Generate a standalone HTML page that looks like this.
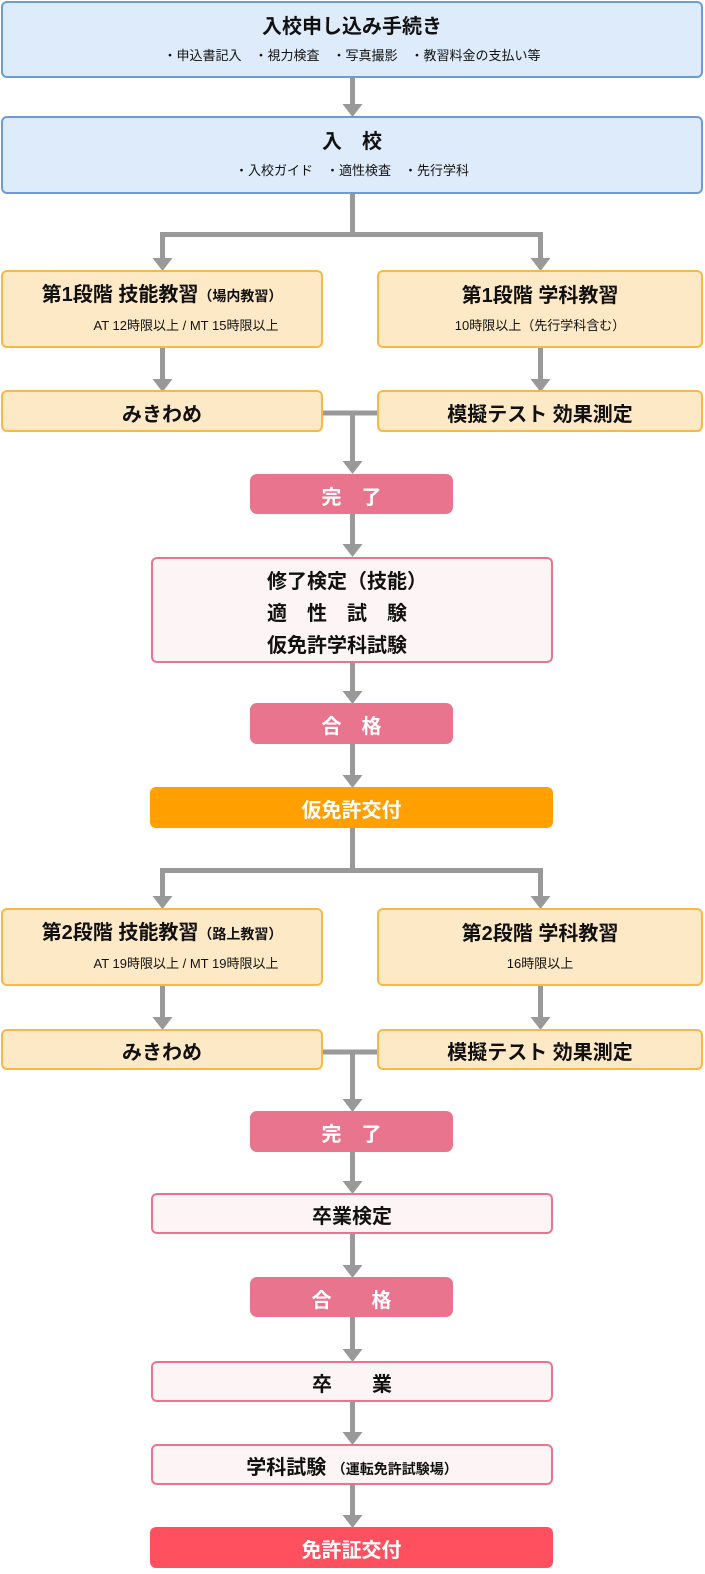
<!DOCTYPE html>
<html><head><meta charset="utf-8"><style>
body{margin:0;width:705px;height:1574px;position:relative;background:#fff;font-family:"Liberation Sans","Noto Sans CJK JP",sans-serif;overflow:hidden}
.b{position:absolute;box-sizing:border-box;border-radius:6px;text-align:center;font-weight:bold;color:#111;display:flex;flex-direction:column;justify-content:center;align-items:center}
.one{padding-top:7px}
.blue{background:#deebfb;border:2px solid #6f9bd3}
.or{background:#fee9c7;border:2px solid #f9b743}
.pk{background:#e8748e;color:#fff;border-radius:7px}
.pw{background:#fdf5f5;border:2px solid #e8748e}
.t{font-size:20px;line-height:28px}
.s{font-size:13px;line-height:22px;font-weight:normal;margin-top:5px}
svg{position:absolute;left:0;top:0}
</style></head><body>
<svg width="705" height="1574">
<g stroke="#999" stroke-width="5" fill="none">
<path d="M352.5 77V105"/>
<path d="M352.5 193V234.5M160 234.5H543M162.5 234.5V259M540.5 234.5V259"/>
<path d="M162.5 347V380M540.5 347V380"/>
<path d="M322 413H380M352.5 413V462"/>
<path d="M352.5 513V545M352.5 662V692M352.5 743V776"/>
<path d="M352.5 827V870.5M160 870.5H543M162.5 870.5V897M540.5 870.5V897"/>
<path d="M162.5 985V1018M540.5 985V1018"/>
<path d="M322 1052H380M352.5 1052V1100"/>
<path d="M352.5 1151V1182M352.5 1232V1266M352.5 1316V1350M352.5 1400V1433M352.5 1483V1516"/>
</g>
<g fill="#999">
<path d="M342.5 104h20l-10 13z"/>
<path d="M152.5 258h20l-10 13z"/><path d="M530.5 258h20l-10 13z"/>
<path d="M152.5 379h20l-10 13z"/><path d="M530.5 379h20l-10 13z"/>
<path d="M342.5 461h20l-10 13z"/>
<path d="M342.5 544h20l-10 13z"/><path d="M342.5 691h20l-10 13z"/><path d="M342.5 775h20l-10 13z"/>
<path d="M152.5 896h20l-10 13z"/><path d="M530.5 896h20l-10 13z"/>
<path d="M152.5 1017h20l-10 13z"/><path d="M530.5 1017h20l-10 13z"/>
<path d="M342.5 1099h20l-10 13z"/>
<path d="M342.5 1181h20l-10 13z"/><path d="M342.5 1265h20l-10 13z"/><path d="M342.5 1349h20l-10 13z"/><path d="M342.5 1432h20l-10 13z"/><path d="M342.5 1515h20l-10 13z"/>
</g>
</svg>

<div class="b blue" style="left:1px;top:1px;width:702px;height:77px"><div class="t">入校申し込み手続き</div><div class="s" style="margin-top:4px">・申込書記入　・視力検査　・写真撮影　・教習料金の支払い等</div></div>
<div class="b blue" style="left:1px;top:116px;width:702px;height:78px"><div class="t">入　校</div><div class="s" style="margin-top:4px">・入校ガイド　・適性検査　・先行学科</div></div>

<div class="b or" style="left:1px;top:270px;width:322px;height:78px"><div class="t">第1段階 技能教習<span style="font-size:14px">（場内教習）</span></div><div class="s" style="padding-left:48px">AT 12時限以上 / MT 15時限以上</div></div>
<div class="b or" style="left:377px;top:270px;width:326px;height:78px"><div class="t">第1段階 学科教習</div><div class="s">10時限以上（先行学科含む）</div></div>
<div class="b or one" style="left:1px;top:390px;width:322px;height:42px"><div class="t">みきわめ</div></div>
<div class="b or one" style="left:377px;top:390px;width:326px;height:42px"><div class="t">模擬テスト 効果測定</div></div>

<div class="b pk one" style="left:250px;top:474px;width:203px;height:40px"><div class="t">完　了</div></div>
<div class="b pw" style="left:151px;top:557px;width:402px;height:106px;align-items:flex-start;padding-left:114px;padding-top:8px"><div class="t" style="text-align:left;line-height:32px">修了検定（技能）<br>適　性　試　験<br>仮免許学科試験</div></div>
<div class="b pk one" style="left:250px;top:703px;width:203px;height:41px"><div class="t">合　格</div></div>
<div class="b one" style="left:150px;top:787px;width:403px;height:41px;background:#ff9f00;color:#fff"><div class="t">仮免許交付</div></div>

<div class="b or" style="left:1px;top:908px;width:322px;height:78px"><div class="t">第2段階 技能教習<span style="font-size:14px">（路上教習）</span></div><div class="s" style="padding-left:48px">AT 19時限以上 / MT 19時限以上</div></div>
<div class="b or" style="left:377px;top:908px;width:326px;height:78px"><div class="t">第2段階 学科教習</div><div class="s">16時限以上</div></div>
<div class="b or one" style="left:1px;top:1029px;width:322px;height:41px"><div class="t">みきわめ</div></div>
<div class="b or one" style="left:377px;top:1029px;width:326px;height:41px"><div class="t">模擬テスト 効果測定</div></div>

<div class="b pk one" style="left:250px;top:1111px;width:203px;height:41px"><div class="t">完　了</div></div>
<div class="b pw one" style="left:151px;top:1193px;width:402px;height:41px"><div class="t">卒業検定</div></div>
<div class="b pk one" style="left:250px;top:1277px;width:203px;height:40px"><div class="t">合　　格</div></div>
<div class="b pw one" style="left:151px;top:1361px;width:402px;height:41px"><div class="t">卒　　業</div></div>
<div class="b pw one" style="left:151px;top:1444px;width:402px;height:41px"><div class="t">学科試験 <span style="font-size:14px">（運転免許試験場）</span></div></div>
<div class="b one" style="left:150px;top:1527px;width:403px;height:41px;background:#ff5060;color:#fff"><div class="t">免許証交付</div></div>
</body></html>
